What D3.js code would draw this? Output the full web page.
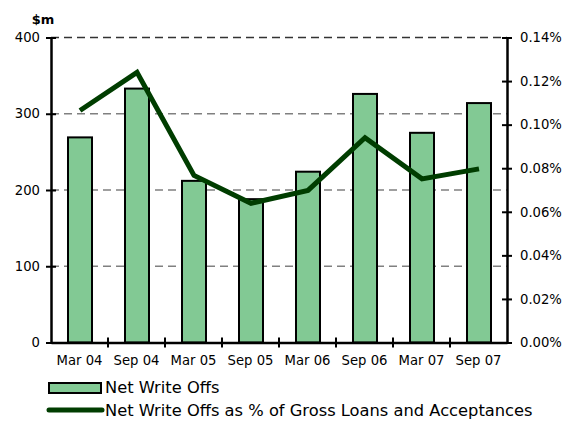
<!DOCTYPE html>
<html>
<head>
<meta charset="utf-8">
<script src="https://cdn.jsdelivr.net/npm/d3@7"></script>
<style>
  body { margin: 0; background: #fff; }
  svg { display: block; font-family: "DejaVu Sans", Verdana, sans-serif; }
</style>
</head>
<body>
<svg id="chart" width="571" height="421"></svg>
<script>
// values
var periods = ["Mar 04", "Sep 04", "Mar 05", "Sep 05", "Mar 06", "Sep 06", "Mar 07", "Sep 07"];
var writeOffs = [269, 333, 212, 188, 224, 326, 275, 314];          // $m
var writeOffPct = [0.1065, 0.124, 0.0767, 0.0639, 0.0698, 0.094, 0.0751, 0.0797]; // %
var leftTicks = [0, 100, 200, 300, 400];
var rightTicks = [0, 0.02, 0.04, 0.06, 0.08, 0.10, 0.12, 0.14];

var barFill = "#82c994";
var lineCol = "#003d00";

var svg = d3.select("#chart");
var pLeft = 51, pRight = 507, pTop = 37.5, pBottom = 342.5;

var x = d3.scaleBand().domain(periods).range([pLeft, pRight]);
var yL = d3.scaleLinear().domain([0, 400]).range([pBottom, pTop]);
var yR = d3.scaleLinear().domain([0, 0.14]).range([pBottom, pTop]);

// dashed grid
svg.append("g").selectAll("line")
  .data(leftTicks.slice(1))
  .enter().append("line")
  .attr("x1", pLeft).attr("x2", pRight)
  .attr("y1", function(d) { return yL(d); })
  .attr("y2", function(d) { return yL(d); })
  .attr("stroke", function(d) { return d == 400 ? "#333" : "#808080"; })
  .attr("stroke-width", 1.5)
  .attr("stroke-dasharray", "8,5");

// bars
var bw = 24;
svg.append("g").selectAll("rect")
  .data(writeOffs)
  .enter().append("rect")
  .attr("x", function(d, i) { return x(periods[i]) + x.bandwidth() / 2 - bw / 2 + 0.5; })
  .attr("y", function(d) { return yL(d); })
  .attr("width", bw)
  .attr("height", function(d) { return pBottom - yL(d); })
  .attr("fill", barFill)
  .attr("stroke", "#000")
  .attr("stroke-width", 2);

// line
var line = d3.line()
  .x(function(d, i) { return x(periods[i]) + x.bandwidth() / 2 + 0.5; })
  .y(function(d) { return yR(d); });
svg.append("path")
  .datum(writeOffPct)
  .attr("d", line)
  .attr("fill", "none")
  .attr("stroke", lineCol)
  .attr("stroke-width", 5)
  .attr("stroke-linejoin", "miter");

// axes, ticks cross the axis line
var axL = svg.append("g")
  .attr("transform", "translate(" + pLeft + ",0)")
  .call(d3.axisLeft(yL).tickValues(leftTicks).tickSize(0).tickPadding(11));
axL.select(".domain").attr("stroke-width", 2.5);
axL.selectAll(".tick line").attr("x1", -5).attr("x2", 5).attr("stroke", "#000").attr("stroke-width", 2);

var axR = svg.append("g")
  .attr("transform", "translate(" + pRight + ",0)")
  .call(d3.axisRight(yR).tickValues(rightTicks).tickSize(0).tickPadding(13)
    .tickFormat(function(d) { return d3.format(".2f")(d) + "%"; }));
axR.select(".domain").attr("stroke-width", 2.5);
axR.selectAll(".tick line").attr("x1", -5).attr("x2", 5).attr("stroke", "#000").attr("stroke-width", 2);

var axB = svg.append("g")
  .attr("transform", "translate(0," + pBottom + ")")
  .call(d3.axisBottom(x).tickSize(0).tickPadding(13));
axB.select(".domain").attr("stroke-width", 2.5);

// category boundary ticks
svg.append("g").selectAll("line")
  .data(periods.slice(1))
  .enter().append("line")
  .attr("x1", function(d) { return x(d); })
  .attr("x2", function(d) { return x(d); })
  .attr("y1", pBottom - 5).attr("y2", pBottom + 5)
  .attr("stroke", "#000").attr("stroke-width", 2);

svg.selectAll(".tick text").attr("font-size", 13.2).attr("font-family", "DejaVu Sans").attr("fill", "#000");

// unit label
svg.append("text").attr("x", 43).attr("y", 24).attr("text-anchor", "middle")
  .attr("font-size", 13).attr("font-weight", "bold").text("$m");

// legend
var lg = svg.append("g");
lg.append("rect").attr("x", 49).attr("y", 383).attr("width", 52).attr("height", 10)
  .attr("fill", barFill).attr("stroke", "#000").attr("stroke-width", 2);
lg.append("text").attr("x", 105).attr("y", 393).attr("font-size", 16.3).text("Net Write Offs");
lg.append("line").attr("x1", 49).attr("x2", 102).attr("y1", 410).attr("y2", 410)
  .attr("stroke", lineCol).attr("stroke-width", 5).attr("stroke-linecap", "round");
lg.append("text").attr("x", 105).attr("y", 416).attr("font-size", 16.3)
  .text("Net Write Offs as % of Gross Loans and Acceptances");
</script>
</body>
</html>
